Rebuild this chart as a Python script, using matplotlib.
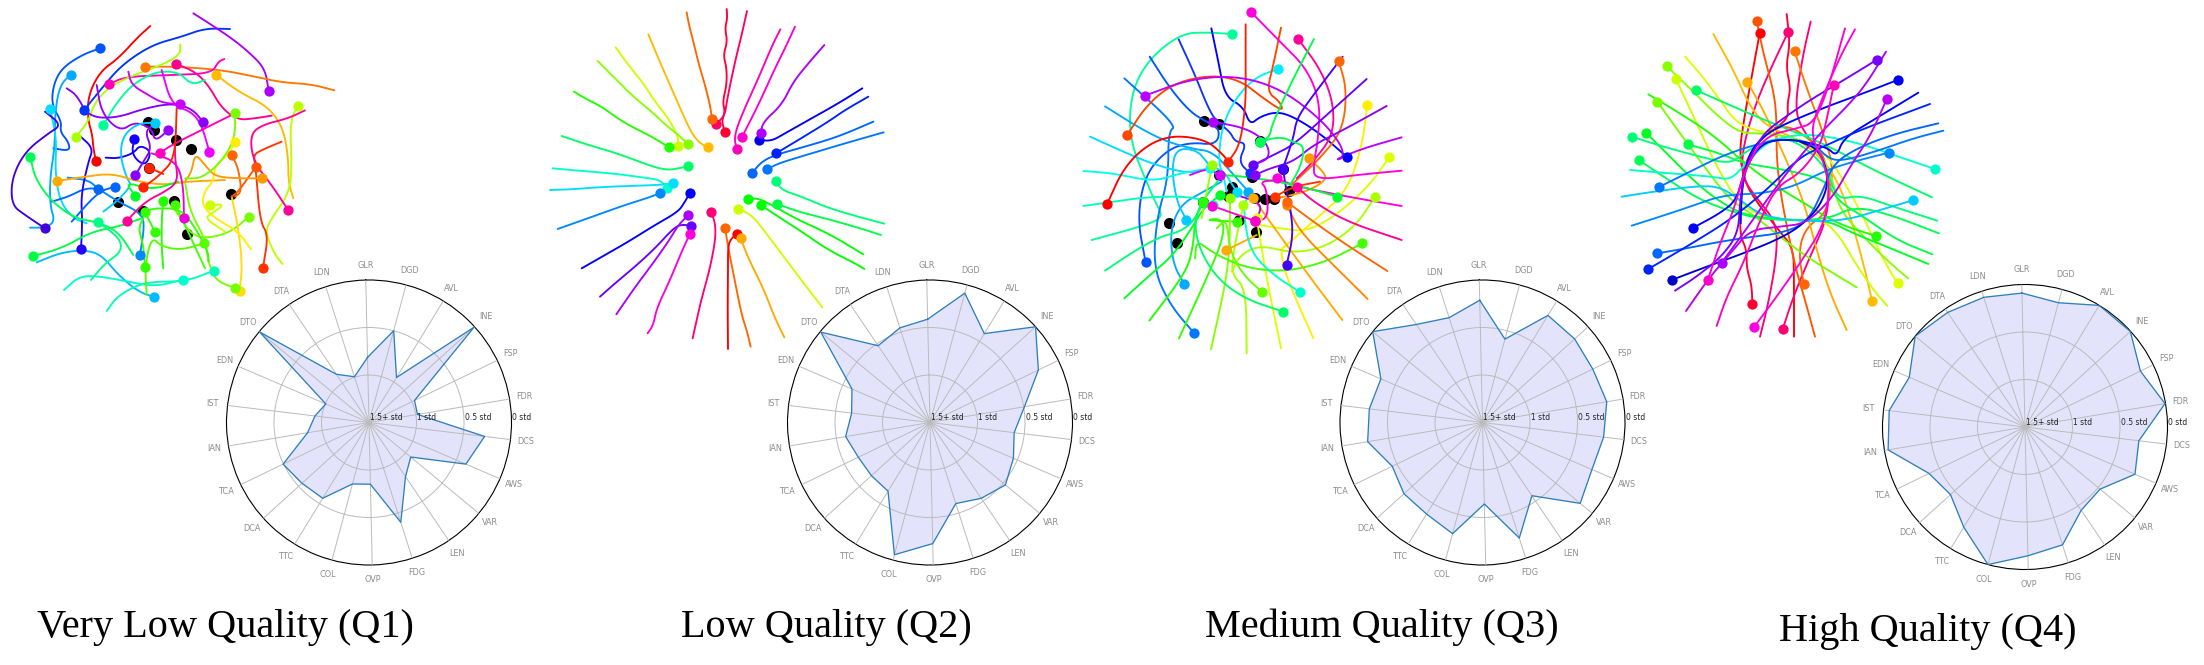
import numpy as np
import matplotlib
matplotlib.use("Agg")
import matplotlib.pyplot as plt

W, H = 2204, 665

axis_labels = ["GLR", "DGD", "AVL", "INE", "FSP", "FDR", "DCS", "AWS", "VAR", "LEN", "FDG",
               "OVP", "COL", "TTC", "DCA", "TCA", "IAN", "IST", "EDN", "DTO", "DTA", "LDN"]
ring_labels = ["1.5+ std", "1 std", "0.5 std", "0 std"]
captions = ["Very Low Quality (Q1)", "Low Quality (Q2)", "Medium Quality (Q3)", "High Quality (Q4)"]

# radar values, 1 = outer ring (0 std), 0 = centre (1.5+ std)
q1_radar = [.457, .667, .37, .995, .355, .345, .817, .74, .38, .458, .735,
            .433, .447, .623, .635, .67, .437, .382, .33, .997, .408, .337]
q2_radar = [.725, .94, .731, 1.0, .845, .672, .595, .637, .687, .642, .597,
            .85, .961, .565, .555, .559, .60, .554, .596, .995, .65, .697]
q3_radar = [.858, .606, .881, .873, .86, .884, .856, .836, .89, .62, .851,
            .572, .808, .753, .744, .704, .817, .8, .776, 1.0, .83, .772]
q4_radar = [.94, .903, 1.0, .998, .9, .996, .805, .84, .684, .705, .868,
            .904, 1.0, .824, .706, .748, .974, .96, .884, 1.0, .97, .955]

# glyph strokes in units of 1/3 pixel. first point carries the dot
q1_colors = ["#0055ff", "#00aaff", "#00ddff", "#ff0000", "#0033ff", "#aa00ff", "#ff7700", "#ff0088",
             "#ff00bb", "#aaff00", "#00ff99", "#ffbb00", "#bbff00", "#8800ff", "#9900ff", "#1100ff",
             "#8800ff", "#00ccff", "#0066ff", "#0088ff", "#4400dd", "#2200ff", "#0066ff", "#00ff55",
             "#ffaa00", "#00ff44", "#00bbff", "#00ffcc", "#00ffbb", "#00ff88", "#00ff22", "#22ff00",
             "#33ff00", "#33ff00", "#55ff00", "#77ff00", "#ffdd00", "#77ff00", "#ffee00", "#ccff00",
             "#ff5500", "#ff3300", "#ff6600", "#ff9900", "#ff0099", "#ee00ff", "#ff00bb", "#ff0099",
             "#ee00dd", "#77ff00", "#ff2200", "#ff2200", "#33ff00", "#cc00ff", "#44ff00"]
q1_traces = [
    [(285,130),(230,150),(170,190),(145,240),(140,300),(170,350),(165,380),(190,410),(195,438),(145,430)],
    [(197,209),(165,240),(150,320),(150,420),(135,520),(135,600),(150,650),(120,668),(75,668)],
    [(135,312),(155,400),(150,500),(165,590),(205,640),(245,655)],
    [(273,468),(265,430),(262,390),(248,340),(250,270),(285,200),(340,160),(400,95),(436,63)],
    [(237,316),(290,250),(350,180),(440,120),(530,95),(600,70),(675,72)],
    [(791,258),(780,190),(730,140),(680,100),(620,60),(565,25)],
    [(420,185),(520,185),(650,195),(750,215),(830,232),(920,238),(988,256)],
    [(514,177),(570,200),(610,240),(650,310),(700,345),(750,340),(800,332)],
    [(312,238),(360,215),(500,210),(620,205),(640,170),(658,162)],
    [(213,395),(250,350),(270,290),(320,240),(400,205),(470,180),(525,150),(526,118)],
    [(295,361),(330,300),(380,240),(450,200),(520,200),(560,240),(600,225)],
    [(633,209),(700,260),(790,305),(835,370),(850,460),(850,530),(865,580)],
    [(878,303),(855,350),(860,470),(855,560),(800,640),(780,680),(810,750),(833,777)],
    [(595,351),(560,310),(500,295),(420,310),(330,340),(250,335),(215,270),(185,250)],
    [(490,375),(450,410),(440,370),(390,350),(345,380),(290,325),(275,240)],
    [(387,403),(380,450),(420,485),(440,440),(405,420),(385,445),(340,460),(302,458)],
    [(391,511),(415,470),(440,430),(420,380),(445,360)],
    [(449,353),(400,355),(355,390),(345,450),(365,520),(380,540),(340,585),(295,620)],
    [(279,551),(240,550),(190,575),(140,590)],
    [(405,750),(420,650),(400,620),(340,590),(279,551),(250,525),(188,518)],
    [(120,670),(60,630),(20,600),(20,520),(60,440),(130,385),(170,360),(120,320)],
    [(228,733),(232,650),(228,570),(250,470),(265,430),(225,393)],
    [(330,545),(280,560),(200,650)],
    [(76,455),(90,520),(140,590),(210,640),(280,652),(340,680),(385,750)],
    [(157,528),(240,515),(320,505),(400,530),(480,540),(540,530),(660,525)],
    [(85,753),(170,730),(260,680),(340,665),(410,640)],
    [(447,876),(400,860),(340,810),(290,750),(240,735),(170,742),(95,772)],
    [(534,824),(450,845),(370,830),(290,815),(225,812),(177,855)],
    [(627,797),(540,830),(420,830),(340,870),(305,918)],
    [(280,652),(345,700),(350,740),(300,775),(258,825)],
    [(391,573),(360,530),(440,555),(520,530)],
    [(475,587),(470,640),(470,730),(475,790)],
    [(450,682),(430,640),(415,620)],
    [(420,785),(415,720),(400,670),(415,640)],
    [(598,714),(530,735),(470,725),(440,695),(420,780),(425,870)],
    [(731,635),(680,680),(610,700),(560,690),(520,630),(500,600)],
    [(704,857),(712,780),(700,670),(680,575)],
    [(690,850),(630,825),(610,770),(600,700),(555,620),(540,530)],
    [(690,410),(670,450),(630,480),(625,530),(600,555),(590,600),(630,640),(700,680),(738,733)],
    [(616,600),(660,598),(620,625),(600,640),(660,680)],
    [(752,486),(700,560),(680,575)],
    [(774,788),(790,690),(765,650),(752,486),(745,450),(770,435),(830,410)],
    [(680,450),(700,490),(710,560),(690,575)],
    [(770,520),(700,520),(630,515),(600,480),(570,445),(560,500),(540,530)],
    [(849,614),(800,540),(745,470),(735,390),(770,360),(850,340),(900,316)],
    [(613,440),(590,360),(560,320),(500,300),(470,195)],
    [(465,444),(500,420),(600,370),(690,325)],
    [(365,648),(420,590),(480,560),(520,530),(510,460),(510,420)],
    [(537,640),(535,540),(515,470),(440,445)],
    [(690,323),(690,400),(650,470),(590,520),(540,520)],
    [(415,547),(465,510),(510,460),(515,310)],
    [(433,488),(475,507)],
    [(420,620),(445,610),(520,610),(560,650),(610,740),(610,770)],
    [(525,298),(470,293),(430,270),(380,240),(370,200)],
    [(510,600),(540,660),(600,790)],
]
q1_black = [(430,350), (447,375), (512,405), (559,431), (433,488), (338,590), (413,618), (507,588), (546,688), (677,566)]

q2_colors = ["#ff0033", "#ff0066", "#ff6600", "#ffbb00", "#ccff00", "#88ff00", "#22ff00", "#00ff66",
             "#00ffcc", "#00ddff", "#0088ff", "#0000ff", "#6600ff", "#aa00ff", "#ff00dd", "#ff0077",
             "#ff6600", "#ff0000", "#ffaa00", "#ccff00", "#00ff00", "#00ff00", "#00ff44", "#00ff77",
             "#0077ff", "#0066ff", "#0022ff", "#0000ee", "#aa00ff", "#ff00cc", "#ff00bb"]
q2_traces = [
    [(540,380),(530,350),(540,320),(533,290),(545,240),(545,190),(535,150),(547,110),(540,70),(547,40),(545,12)],
    [(514,357),(540,330),(545,290),(570,170),(590,90),(606,18)],
    [(501,342),(495,300),(480,240),(462,180),(445,110),(432,60),(425,22)],
    [(490,427),(465,415),(440,385),(410,320),(375,240),(340,160),(310,88)],
    [(398,423),(400,395),(370,340),(330,290),(295,235),(250,180),(212,127)],
    [(429,417),(400,390),(362,360),(320,320),(265,275),(215,225),(185,195),(158,168)],
    [(372,427),(320,395),(270,370),(225,345),(170,305),(120,280),(87,260)],
    [(429,484),(400,490),(370,495),(330,487),(270,465),(200,440),(130,420),(50,393)],
    [(367,549),(345,525),(300,518),(200,505),(100,497),(23,490)],
    [(383,535),(340,540),(250,543),(170,546),(80,553),(15,555)],
    [(344,565),(310,578),(240,600),(170,625),(100,650),(38,672)],
    [(435,563),(420,590),(400,620),(330,660),(250,710),(180,750),(110,790)],
    [(439,663),(410,658),(385,670),(330,730),(270,785),(210,835),(165,875)],
    [(429,631),(400,660),(370,710),(320,780),(275,840),(240,890),(214,928)],
    [(435,686),(410,740),(375,825),(335,910),(325,960),(308,985)],
    [(497,621),(510,650),(512,700),(495,790),(470,880),(455,945),(443,1000)],
    [(540,668),(550,730),(570,830),(590,930),(605,975),(617,1025)],
    [(575,687),(555,705),(549,730),(549,800),(548,900),(549,1032)],
    [(587,700),(610,760),(655,850),(690,940),(718,997)],
    [(579,611),(620,630),(660,680),(720,760),(780,840),(832,907)],
    [(608,581),(640,580),(680,600),(760,645),(850,685),(955,748)],
    [(647,600),(700,635),(770,680),(850,735),(930,775),(958,792)],
    [(697,597),(760,620),(840,640),(930,665),(1008,690)],
    [(694,529),(710,555),(770,575),(840,605),(920,630),(1018,656)],
    [(667,493),(700,475),(800,445),(900,415),(1016,382)],
    [(621,504),(650,470),(690,450),(780,425),(880,395),(985,350)],
    [(693,445),(760,405),(850,350),(900,315),(970,275)],
    [(642,405),(680,408),(720,385),(800,340),(880,295),(952,250)],
    [(647,383),(655,350),(710,300),(745,230),(790,175),(838,120)],
    [(591,396),(640,300),(690,190),(720,130),(750,65)],
    [(575,432),(567,395),(590,330),(640,220),(680,125),(706,73)],
]
q2_black = []

q3_colors = ["#00ff99", "#0000ff", "#1133ff", "#0055ff", "#0077ff", "#00aaff", "#00aaff", "#00ccff",
             "#00ddff", "#00eeff", "#00ffee", "#00ffbb", "#00ff77", "#00ff22", "#22ff00", "#33ff00",
             "#88ff00", "#aaff00", "#ddff00", "#ffee00", "#ddff00", "#aaff00", "#44ff00", "#ffaa00",
             "#ffaa00", "#ff8800", "#ff6600", "#ff9900", "#ff6600", "#ff4400", "#ff2200", "#ff0000",
             "#ff0099", "#ff00dd", "#bb00ff", "#8800ff", "#6600ff", "#4400ff", "#4400ff", "#00ff44",
             "#66ff00", "#00ff66", "#00ffcc", "#ff00dd", "#ff0099", "#ff00dd", "#00ff33", "#99ff00",
             "#aa00ff", "#aa00ff", "#ff00cc", "#00ff55", "#dd00ff", "#ff3300"]
q3_traces = [
    [(456,87),(380,82),(310,85),(230,140),(170,220),(147,320),(155,420),(195,520),(225,590),(250,635),(200,660),(35,705)],
    [(802,457),(720,385),(640,335),(590,320),(540,335),(510,360),(490,305),(435,275),(415,170),(394,70)],
    [(510,505),(475,470),(500,415),(465,410),(450,380),(410,350),(385,310),(345,210),(296,103)],
    [(197,772),(172,640),(195,510),(260,435),(330,412),(410,420),(420,370),(375,348),(330,320),(270,250),(209,155)],
    [(343,985),(270,900),(220,790),(230,640),(265,520),(265,380),(290,362),(133,220)],
    [(505,560),(470,520),(400,440),(340,432),(260,410),(180,370),(75,304)],
    [(313,836),(280,780),(270,680),(300,600),(370,560),(425,530)],
    [(319,644),(290,590),(275,490),(290,430),(350,435),(380,470),(410,510)],
    [(470,560),(420,480),(340,505),(280,495),(200,470),(130,440),(30,395)],
    [(595,191),(520,220),(460,290),(425,370),(415,470),(430,510),(440,560)],
    [(390,490),(300,505),(220,530),(100,505),(10,498)],
    [(400,600),(340,575),(210,575),(100,590),(10,603)],
    [(370,590),(340,650),(300,680),(240,695),(160,740),(75,797)],
    [(420,570),(370,610),(335,670),(280,750),(210,810),(133,880)],
    [(370,590),(345,640),(340,720),(320,800),(208,947)],
    [(470,650),(370,645),(430,640),(430,700),(380,820),(297,1000)],
    [(450,580),(450,700),(440,820),(393,1033)],
    [(490,600),(460,740),(455,810),(498,850),(500,1045)],
    [(530,640),(540,700),(560,820),(603,1030)],
    [(862,300),(845,430),(800,560),(710,640),(620,720),(600,735),(620,820),(700,1000)],
    [(928,456),(870,540),(770,630),(680,680),(600,670),(540,660)],
    [(885,575),(830,660),(740,725),(640,745),(540,720),(480,750),(455,800)],
    [(847,715),(740,770),(620,800),(500,790),(400,745),(350,705),(345,760)],
    [(437,736),(490,710),(530,690)],
    [(520,580),(570,650),(620,720),(700,830),(787,945)],
    [(620,600),(660,680),(760,780),(863,882)],
    [(620,590),(700,650),(800,720),(922,798)],
    [(687,460),(730,500),(740,525),(680,560),(590,580)],
    [(776,168),(800,250),(790,370),(730,450),(640,535),(630,540)],
    [(141,391),(200,300),(280,235),(390,210),(480,225),(550,280),(610,320),(600,290),(560,260),(580,180),(603,68)],
    [(445,470),(480,420),(497,300),(497,200),(497,58)],
    [(81,598),(130,490),(200,420),(280,390),(380,405),(430,450),(445,470)],
    [(655,103),(720,190),(760,290),(760,390),(700,470),(650,520)],
    [(514,22),(600,110),(680,190),(720,290),(715,400),(700,480),(705,525),(830,510),(965,497)],
    [(195,272),(330,222),(470,212),(600,250),(720,340),(785,420),(790,460),(763,465),(850,430),(965,397)],
    [(525,510),(570,490),(640,470),(700,420),(790,375),(920,303)],
    [(520,480),(580,450),(640,420),(740,330),(860,222)],
    [(608,492),(640,400),(650,340),(700,270),(788,155)],
    [(620,779),(640,690),(630,600),(620,560),(610,500)],
    [(540,410),(570,395),(575,360),(640,220),(702,102)],
    [(545,860),(490,810),(450,740),(440,640),(410,670)],
    [(610,920),(490,880),(400,810),(345,700),(350,610),(420,520)],
    [(660,861),(580,810),(510,740),(490,620),(500,580)],
    [(395,602),(525,648)],
    [(650,545),(700,590),(800,650),(965,705)],
    [(590,520),(650,545),(830,580),(965,603)],
    [(772,575),(650,540),(500,515),(420,510)],
    [(397,480),(380,560),(365,640)],
    [(525,648),(545,610),(530,590),(470,570)],
    [(400,350),(500,370),(560,410),(570,460),(520,480)],
    [(525,648),(565,640),(560,550),(540,530),(590,525)],
    [(540,410),(600,395),(640,410),(675,425),(660,490),(630,540)],
    [(420,510),(385,490),(330,510)],
    [(585,575),(640,545),(720,530)],
]
q3_black = [(373,348), (417,358), (540,408), (417,510), (515,515), (608,492), (455,545), (445,572), (525,580),
            (555,582), (582,582), (628,558), (370,590), (268,654), (290,714), (478,645), (527,682)]

q4_colors = ["#ff0000", "#ff0033", "#ff0077", "#ff0077", "#ff6600", "#ff7700", "#ff5500", "#ffaa00",
             "#ffbb00", "#ccff00", "#ddff00", "#77ff00", "#88ff00", "#22ff00", "#00ff22", "#00ff66",
             "#00ff44", "#00ff55", "#00ff77", "#00ffcc", "#00ccff", "#0088ff", "#0077ff", "#0066ff",
             "#0000ff", "#0022ff", "#0000cc", "#0000ff", "#7700ff", "#aa00ff", "#bb00ee", "#ff00cc",
             "#ff00bb", "#ff00dd"]
q4_traces = [
    [(419,70),(395,200),(370,340),(358,430),(375,520),(420,590),(480,665),(520,715),(522,800),(522,980)],
    [(397,881),(395,825),(380,775),(380,720),(362,680),(360,620),(365,540),(372,460),(430,375),(505,330),(502,280),(512,235),(498,170),(510,100),(500,12)],
    [(505,65),(450,180),(400,300),(365,430),(370,510),(415,570),(470,640),(470,740),(445,880),(420,980)],
    [(488,958),(520,860),(570,740),(620,630),(630,510),(610,440),(540,350),(525,280),(550,130),(572,35)],
    [(551,822),(535,720),(560,650),(620,610),(630,520),(610,430),(560,380),(500,345),(440,365)],
    [(524,124),(555,220),(610,370),(640,470),(628,560)],
    [(410,32),(430,130),(460,240),(470,320),(470,490),(520,750),(555,870),(585,980)],
    [(382,216),(430,300),(490,430),(550,570),(590,720),(630,850),(680,960)],
    [(756,872),(735,780),(700,650),(665,540),(620,460),(540,390),(440,350),(390,290),(340,180),(280,72)],
    [(168,207),(230,340),(290,470),(350,570),(420,620),(520,630),(610,630),(660,680),(700,750),(760,840),(802,888)],
    [(833,820),(790,750),(730,620),(680,530),(640,460),(580,400),(500,380),(420,365),(350,340),(300,270),(240,190),(195,140)],
    [(112,275),(180,370),(260,480),(330,570),(400,615),(480,680),(560,740),(640,790),(710,832)],
    [(140,168),(220,245),(290,315),(360,370),(430,370),(540,385),(610,440),(640,520),(660,600),(730,680),(800,750),(865,806)],
    [(767,678),(650,640),(570,590),(470,530),(380,465),(280,375),(180,310),(85,253)],
    [(78,368),(150,440),(250,540),(340,600),(400,620),(520,632),(620,630),(700,670),(800,710),(925,762)],
    [(227,240),(340,290),(470,345),(610,400),(760,480),(936,562)],
    [(203,403),(300,430),(370,460),(500,480),(620,510),(650,570),(730,620),(830,690),(937,733)],
    [(57,450),(130,500),(240,570),(350,610),(440,630),(620,630),(700,590),(800,610),(957,670)],
    [(35,380),(130,410),(240,440),(330,462),(370,430),(440,390),(520,385),(620,470),(650,570),(720,555),(820,590),(952,632)],
    [(945,477),(850,445),(720,400),(600,375),(520,375),(440,395),(370,470),(330,510),(280,500),(150,490),(30,480)],
    [(879,571),(780,600),(680,630),(560,635),(430,620),(360,570),(300,530),(230,528),(100,545),(5,560)],
    [(806,428),(700,455),(620,480),(520,530),(430,550),(310,555),(210,590),(120,620),(35,647)],
    [(117,531),(200,490),(300,440),(400,405),(500,385),(580,400),(630,450),(680,450),(780,420),(880,385),(970,362)],
    [(112,730),(200,715),(300,695),(400,680),(480,670),(560,640),(610,540),(640,460),(720,410),(830,370),(955,340)],
    [(220,653),(300,610),(350,570),(370,490),(420,400),(500,385),(620,410),(650,440),(670,385),(760,330),(895,248)],
    [(85,777),(200,710),(330,630),(440,540),(540,440),(610,410),(720,360),(930,282)],
    [(155,810),(260,770),(370,730),(470,690),(540,650),(600,590),(628,510),(600,420),(540,395)],
    [(835,209),(730,250),(620,290),(510,335),(440,370),(385,430),(365,540),(362,640)],
    [(771,149),(680,205),(570,270),(490,325),(430,370),(380,460),(360,570),(355,670),(305,740),(230,800),(165,842)],
    [(305,758),(370,670),(440,570),(530,450),(610,360),(690,280),(740,220),(798,125)],
    [(800,268),(750,380),(690,470),(640,560),(560,640),(480,650),(390,660),(340,720),(270,800),(198,903)],
    [(263,811),(300,700),(345,590),(370,490),(430,380),(530,355),(580,340),(620,250),(675,55)],
    [(641,226),(620,330),(600,410),(540,490),(470,530),(420,630),(370,760),(320,860),(290,948)],
    [(403,950),(470,860),(540,760),(610,650),(630,540),(610,450),(570,370),(600,280),(660,140),(705,58)],
]
q4_black = []

fig = plt.figure(figsize=(W / 100, H / 100), dpi=100, facecolor="white")


def px_axes(x, y, w, h, **kw):
    # axes placed by pixel box, y measured from the top of the picture
    return fig.add_axes([x / W, 1 - (y + h) / H, w / W, h / H], **kw)


def smooth(points):
    # corner cutting so the hand read strokes do not look like polylines
    pts = np.array(points, dtype=float)
    for _ in range(3):
        a = pts[:-1] * .75 + pts[1:] * .25
        b = pts[:-1] * .25 + pts[1:] * .75
        mid = np.empty((a.shape[0] * 2, 2))
        mid[0::2] = a
        mid[1::2] = b
        pts = np.vstack([pts[0], mid, pts[-1]])
    return pts


def draw_glyph(box, traces, colors, black):
    ax = px_axes(*box)
    ax.set_xlim(0, box[2] * 3)
    ax.set_ylim(box[3] * 3, 0)
    ax.axis("off")
    for p in black:
        ax.plot(p[0], p[1], "o", color="black", ms=8, mew=0, zorder=1)
    for pts, c in zip(traces, colors):
        s = smooth(pts)
        ax.plot(s[:, 0], s[:, 1], color=c, lw=1.35, solid_capstyle="round", zorder=2)
    for pts, c in zip(traces, colors):
        ax.plot(pts[0][0], pts[0][1], "o", color=c, ms=7.4, mew=0, zorder=3)


def draw_radar(cx, cy, values):
    R = 142.5
    ax = px_axes(cx - R, cy - R, 2 * R, 2 * R, projection="polar")
    offset = np.radians(90 + 1.3)
    ax.set_theta_offset(offset)
    ax.set_theta_direction(-1)
    theta = np.arange(len(axis_labels)) * 2 * np.pi / len(axis_labels)
    tt = np.append(theta, 2 * np.pi)
    vv = np.append(values, values[0])
    ax.fill(tt, vv, color="#e3e4fb", lw=0, zorder=0.5)
    ax.plot(tt, vv, color="#2f7fbd", lw=0.95, zorder=3)
    ax.set_xticks(theta)
    ax.set_xticklabels([])
    ax.set_yticks([1 / 3, 2 / 3])
    ax.set_yticklabels([])
    ax.set_xlim(0, 2 * np.pi)
    ax.set_ylim(0, 1)
    ax.grid(True, color="#bbbbbb", lw=0.7, zorder=1)
    ax.set_axisbelow(False)
    ax.tick_params(length=0)
    ax.spines["polar"].set_color("black")
    ax.spines["polar"].set_linewidth(0.8)
    for t, lab in zip(theta, axis_labels):
        ax.text(t, 1.105, lab, fontsize=5.9, color="#8c8c8c", ha="center", va="center", clip_on=False)
    for r, lab in zip([0, 1 / 3, 2 / 3, 1], ring_labels):
        ax.annotate(lab, (offset, r), xytext=(0.5, 3.6), textcoords="offset points", fontsize=5.5,
                    color="#222222", ha="left", va="center", annotation_clip=False, zorder=4)


draw_glyph((5, 5, 340, 320), q1_traces, q1_colors, q1_black)
draw_glyph((545, 5, 345, 350), q2_traces, q2_colors, q2_black)
draw_glyph((1080, 5, 335, 355), q3_traces, q3_colors, q3_black)
draw_glyph((1620, 10, 330, 335), q4_traces, q4_colors, q4_black)

draw_radar(369, 422.5, q1_radar)
draw_radar(930, 422.5, q2_radar)
draw_radar(1482.5, 422.5, q3_radar)
draw_radar(2025, 427, q4_radar)

for (x, y), cap in zip([(225, 627), (826, 627), (1382, 627), (1928, 631)], captions):
    fig.text(x / W, 1 - y / H, cap, family="Liberation Serif", fontsize=29, ha="center", va="center", color="black")

fig.savefig("out.png", dpi=100)
